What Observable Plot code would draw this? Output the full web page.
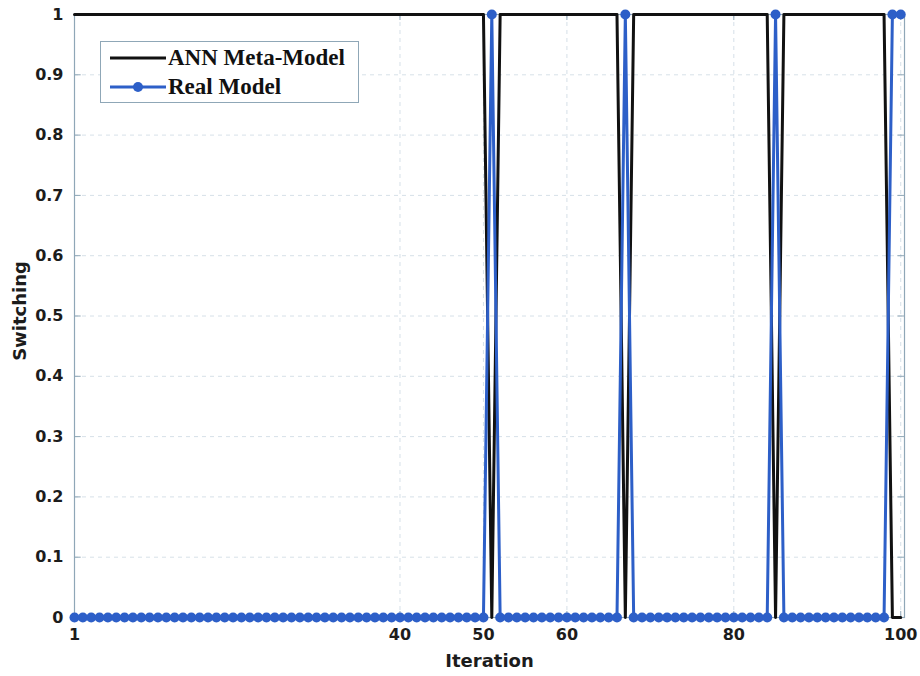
<!DOCTYPE html>
<html>
<head>
<meta charset="utf-8">
<script src="https://cdn.jsdelivr.net/npm/d3@7"></script>
<script src="https://cdn.jsdelivr.net/npm/@observablehq/plot@0.6"></script>
<style>
  html, body { margin: 0; padding: 0; background: #fff; }
  #wrap { position: relative; width: 920px; height: 676px; }
  #legend {
    position: absolute; left: 100px; top: 41px; width: 259px; height: 62px;
    border: 1.5px solid #8fa7b7; background: #fff; box-sizing: border-box;
    font-family: "Liberation Serif", "Times New Roman", serif; font-weight: bold;
    font-size: 23px; color: #111;
  }
  #legend .row { position: absolute; left: 8px; height: 28px; display: flex; align-items: center; }
  #legend svg { margin-right: 1px; }
</style>
</head>
<body>
<div id="wrap">
  <div id="chart"></div>
  <div id="legend">
    <div class="row" style="top:2px">
      <svg width="58" height="10"><line x1="1" y1="5" x2="57" y2="5" stroke="#111" stroke-width="3"/></svg>
      <span>ANN Meta-Model</span>
    </div>
    <div class="row" style="top:31px">
      <svg width="58" height="12"><line x1="1" y1="6" x2="57" y2="6" stroke="#2d5fc8" stroke-width="3"/><circle cx="29" cy="6" r="5" fill="#2d5fc8"/></svg>
      <span>Real Model</span>
    </div>
  </div>
</div>
<script>
const iteration = [
  1,2,3,4,5,6,7,8,9,10,
  11,12,13,14,15,16,17,18,19,20,
  21,22,23,24,25,26,27,28,29,30,
  31,32,33,34,35,36,37,38,39,40,
  41,42,43,44,45,46,47,48,49,50,
  51,52,53,54,55,56,57,58,59,60,
  61,62,63,64,65,66,67,68,69,70,
  71,72,73,74,75,76,77,78,79,80,
  81,82,83,84,85,86,87,88,89,90,
  91,92,93,94,95,96,97,98,99,100
];
const annMetaModel = [
  1,1,1,1,1,1,1,1,1,1,
  1,1,1,1,1,1,1,1,1,1,
  1,1,1,1,1,1,1,1,1,1,
  1,1,1,1,1,1,1,1,1,1,
  1,1,1,1,1,1,1,1,1,1,
  0,1,1,1,1,1,1,1,1,1,
  1,1,1,1,1,1,0,1,1,1,
  1,1,1,1,1,1,1,1,1,1,
  1,1,1,1,0,1,1,1,1,1,
  1,1,1,1,1,1,1,1,0,0
];
const realModel = [
  0,0,0,0,0,0,0,0,0,0,
  0,0,0,0,0,0,0,0,0,0,
  0,0,0,0,0,0,0,0,0,0,
  0,0,0,0,0,0,0,0,0,0,
  0,0,0,0,0,0,0,0,0,0,
  1,0,0,0,0,0,0,0,0,0,
  0,0,0,0,0,0,1,0,0,0,
  0,0,0,0,0,0,0,0,0,0,
  0,0,0,0,1,0,0,0,0,0,
  0,0,0,0,0,0,0,0,1,1
];
const xTicks = [1, 40, 50, 60, 80, 100];
const xTickLabels = ["1", "40", "50", "60", "80", "100"];
const yTicks = [0, 0.1, 0.2, 0.3, 0.4, 0.5, 0.6, 0.7, 0.8, 0.9, 1];
const yTickLabels = ["0", "0.1", "0.2", "0.3", "0.4", "0.5", "0.6", "0.7", "0.8", "0.9", "1"];
const xLabel = "Iteration";
const yLabel = "Switching";

const ann = iteration.map((x, i) => ({x, y: annMetaModel[i]}));
const real = iteration.map((x, i) => ({x, y: realModel[i]}));

const axisColor = "#8fa7b7";
const blue = "#2d5fc8";

const chart = Plot.plot({
  width: 920,
  height: 676,
  marginLeft: 74,
  marginRight: 16,
  marginTop: 14,
  marginBottom: 59,
  style: {fontFamily: "DejaVu Sans", fontWeight: "bold", fontSize: "16px", color: "#1c1c1c", background: "#fff", overflow: "visible"},
  x: {domain: [1, 100.45]},
  y: {domain: [0, 1]},
  marks: [
    Plot.gridY(yTicks, {stroke: "#c5d3de", strokeOpacity: 0.7, strokeDasharray: "4,4"}),
    Plot.gridX(xTicks, {stroke: "#c5d3de", strokeOpacity: 0.7, strokeDasharray: "4,4"}),
    Plot.frame({stroke: axisColor, strokeWidth: 1.2}),
    Plot.ruleY(yTicks, {x1: 1, x2: 1.8, stroke: axisColor}),
    Plot.ruleY(yTicks, {x1: 99.65, x2: 100.45, stroke: axisColor}),
    Plot.ruleX(xTicks, {y1: 0, y2: 0.01, stroke: axisColor}),
    Plot.ruleX(xTicks, {y1: 0.99, y2: 1, stroke: axisColor}),
    Plot.axisY(yTicks, {tickSize: 0, tickPadding: 11, tickFormat: (d, i) => yTickLabels[i], label: null, fontSize: 16}),
    Plot.axisX(xTicks, {tickSize: 0, tickPadding: 11, tickFormat: (d, i) => xTickLabels[i], label: null, fontSize: 16}),
    Plot.text([xLabel], {frameAnchor: "bottom", lineAnchor: "middle", textAnchor: "middle", dy: 44, fontSize: 18, fontWeight: "bold", fill: "#1c1c1c"}),
    Plot.text([yLabel], {frameAnchor: "left", lineAnchor: "middle", textAnchor: "middle", dx: -54, dy: -5, rotate: -90, fontSize: 18, fontWeight: "bold", fill: "#1c1c1c"}),
    Plot.line(ann, {x: "x", y: "y", stroke: "#111", strokeWidth: 3}),
    Plot.line(real, {x: "x", y: "y", stroke: blue, strokeWidth: 3}),
    Plot.dot(real, {x: "x", y: "y", r: 5, fill: blue, stroke: "none"})
  ]
});
document.getElementById("chart").appendChild(chart);
</script>
</body>
</html>
